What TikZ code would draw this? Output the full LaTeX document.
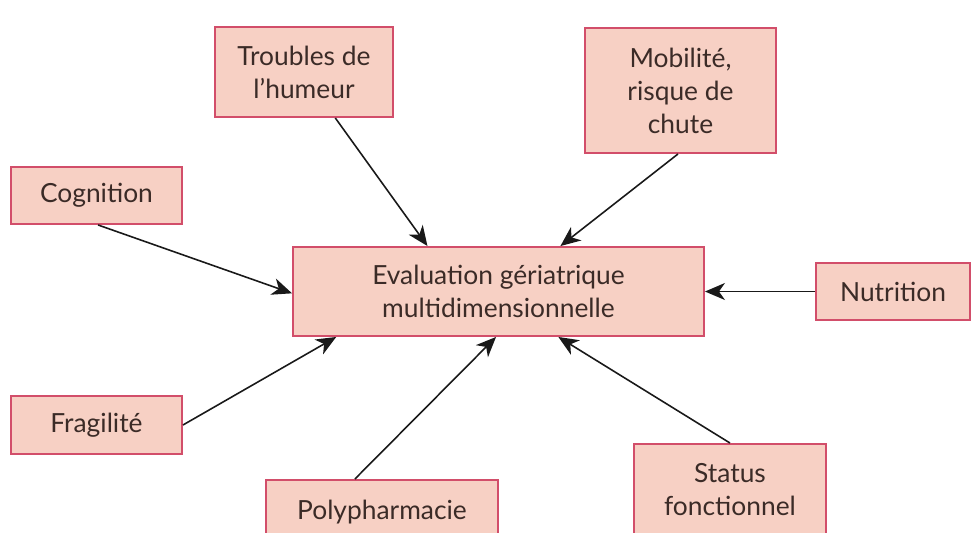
\documentclass[tikz,border=0pt]{standalone}
\usepackage{fontspec}
\setmainfont{Lato}
\usetikzlibrary{arrows.meta,calc}
\definecolor{boxfill}{HTML}{F7D0C4}
\definecolor{boxline}{HTML}{D24E6A}
\definecolor{txt}{HTML}{3B2B27}
\begin{document}
\begin{tikzpicture}[x=0.02cm,y=-0.02cm,
  box/.style={draw=boxline,fill=boxfill,line width=1.1pt,text=txt,align=center,
    font=\fontsize{15}{18.8}\selectfont,inner sep=0pt},
  arr/.style={draw=black!90,line width=0.9pt,-{Stealth[length=0.4cm,width=0.34cm,inset=0.12cm]}}]
\useasboundingbox (0,0) rectangle (975,532);
\clip (0,0) rectangle (975,532);
\fill[white] (0,0) rectangle (975,532);
\node[box,minimum width=178*0.02cm,minimum height=90*0.02cm] (trb) at (304,72) {Troubles de\\l'humeur};
\node[box,minimum width=191*0.02cm,minimum height=125*0.02cm] (mob) at (680.5,90.5) {Mobilité,\\risque de\\chute};
\node[box,minimum width=171*0.02cm,minimum height=57*0.02cm] (cog) at (96.5,195.5) {Cognition};
\node[box,minimum width=411*0.02cm,minimum height=89*0.02cm] (ev) at (498.5,291.5) {Evaluation gériatrique\\multidimensionnelle};
\node[box,minimum width=154*0.02cm,minimum height=57*0.02cm] (nut) at (893,291.5) {Nutrition};
\node[box,minimum width=171*0.02cm,minimum height=58*0.02cm] (frg) at (96.5,425) {Fragilité};
\node[box,minimum width=232*0.02cm,minimum height=64*0.02cm] (pol) at (382,512) {Polypharmacie};
\node[box,minimum width=192*0.02cm,minimum height=92*0.02cm] (sta) at (730,490) {Status\\fonctionnel};
\draw[arr] ($(trb.south west)!0.674!(trb.south east)$) -- ($(ev.north west)!0.328!(ev.north east)$);
\draw[arr] ($(mob.south west)!0.487!(mob.south east)$) -- ($(ev.north west)!0.65!(ev.north east)$);
\draw[arr] ($(cog.south west)!0.509!(cog.south east)$) -- ($(ev.north west)!0.52!(ev.south west)$);
\draw[arr] (nut.west) -- (nut.west -| ev.east);
\draw[arr] (frg.east) -- ($(ev.south west)!0.107!(ev.south east)$);
\draw[arr] ($(pol.north west)!0.384!(pol.north east)$) -- ($(ev.south west)!0.494!(ev.south east)$);
\draw[arr] (sta.north) -- ($(ev.south west)!0.645!(ev.south east)$);
\end{tikzpicture}
\end{document}
